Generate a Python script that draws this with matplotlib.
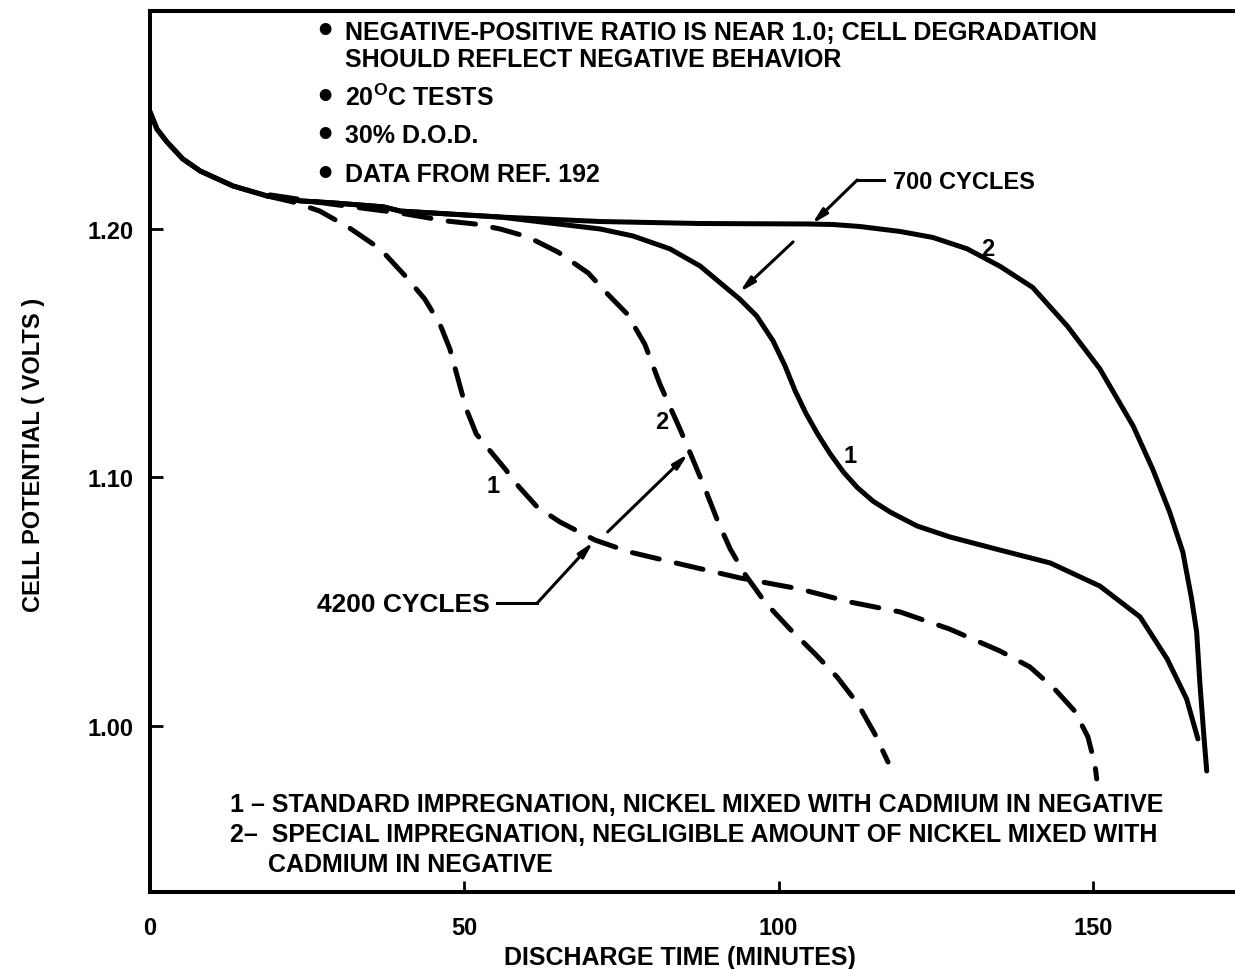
import matplotlib
matplotlib.use("Agg")
import matplotlib.pyplot as plt

FAM = ['Liberation Sans Narrow', 'Liberation Sans', 'DejaVu Sans']
plt.rcParams['font.family'] = FAM
plt.rcParams['font.weight'] = 'bold'
plt.rcParams['mathtext.fontset'] = 'custom'
plt.rcParams['mathtext.bf'] = 'Liberation Sans:bold'
plt.rcParams['mathtext.rm'] = 'Liberation Sans:bold'

# discharge curves, time in minutes, potential in volts
t_700_1 = [0, 1.1, 2.7, 5.2, 8.0, 13.2, 18.6, 23.9, 29.1, 37.1, 39.8, 55.7, 63.6, 71.6, 76.8,
           82.7, 87.5, 93.8, 96.5, 99.1, 101.0, 102.6, 104.3, 106.2, 108.2, 110.3, 112.5,
           115.0, 117.8, 122.0, 127.2, 135.2, 143.2, 151.1, 157.5, 161.8, 164.9, 166.7]
v_700_1 = [1.2471, 1.2402, 1.2350, 1.2282, 1.2233, 1.2173, 1.2133, 1.2113, 1.2105, 1.2089,
           1.2072, 1.2048, 1.2024, 1.2000, 1.1972, 1.1920, 1.1851, 1.1718, 1.1650, 1.1550,
           1.1450, 1.1350, 1.1260, 1.1175, 1.1095, 1.1022, 1.0960, 1.0905, 1.0860, 1.0805,
           1.0761, 1.0708, 1.0656, 1.0563, 1.0439, 1.0270, 1.0109, 0.9948]

t_700_2 = [0, 1.1, 2.7, 5.2, 8.0, 13.2, 18.6, 23.9, 29.1, 37.1, 39.8, 55.7, 71.6, 87.5,
           104.8, 108.6, 112.9, 119.3, 124.5, 130.0, 135.2, 140.4, 145.9, 151.1, 156.4,
           159.5, 162.2, 164.3, 165.7, 166.5, 167.0, 167.6, 168.1]
v_700_2 = [1.2471, 1.2402, 1.2350, 1.2282, 1.2233, 1.2173, 1.2133, 1.2113, 1.2105, 1.2089,
           1.2072, 1.2048, 1.2030, 1.2022, 1.2020, 1.2018, 1.2010, 1.1990, 1.1966, 1.1920,
           1.1850, 1.1765, 1.1610, 1.1437, 1.1207, 1.1034, 1.0861, 1.0700, 1.0511, 1.0378,
           1.0177, 0.9976, 0.9819]

t_4200_1 = [18.6, 22.7, 27.0, 31.5, 36.6, 40.6, 43.7, 46.1, 47.7, 49.0, 50.3, 51.9, 54.1,
            56.5, 58.7, 61.6, 65.2, 70.8, 76.3, 84.3, 93.8, 103.4, 111.3, 119.3, 127.2,
            135.2, 140.0, 143.9, 147.1, 149.2, 150.3, 150.6]
v_4200_1 = [1.2133, 1.2109, 1.2072, 1.2008, 1.1920, 1.1811, 1.1718, 1.1618, 1.1517, 1.1396,
            1.1276, 1.1175, 1.1107, 1.1034, 1.0962, 1.0881, 1.0821, 1.0748, 1.0700, 1.0652,
            1.0596, 1.0551, 1.0499, 1.0459, 1.0390, 1.0302, 1.0237, 1.0149, 1.0060, 0.9956,
            0.9847, 0.9787]

t_4200_2 = [19.1, 28.6, 39.8, 47.2, 51.7, 55.7, 60.1, 64.9, 69.7, 72.8, 75.9, 78.7, 81.1,
            84.3, 86.2, 88.3, 90.3, 92.3, 94.6, 97.8, 101.8, 105.8, 109.3, 112.6, 115.3, 117.4]
v_4200_2 = [1.2137, 1.2101, 1.2064, 1.2032, 1.2020, 1.2000, 1.1968, 1.1907, 1.1823, 1.1738,
            1.1658, 1.1537, 1.1376, 1.1195, 1.1082, 1.0954, 1.0825, 1.0712, 1.0612, 1.0499,
            1.0390, 1.0290, 1.0197, 1.0089, 0.9968, 0.9855]

xticks = [0, 50, 100, 150]
yticks = [1.00, 1.10, 1.20]
ytick_labels = ['1.00', '1.10', '1.20']

notes = [["NEGATIVE-POSITIVE RATIO IS NEAR 1.0; CELL DEGRADATION",
          "SHOULD REFLECT NEGATIVE BEHAVIOR"],
         [r"20$^{\mathbf{O}}$C TESTS"],
         ["30% D.O.D."],
         ["DATA FROM REF. 192"]]
legend_lines = ["1 \u2013 STANDARD IMPREGNATION, NICKEL MIXED WITH CADMIUM IN NEGATIVE",
                "2\u2013  SPECIAL IMPREGNATION, NEGLIGIBLE AMOUNT OF NICKEL MIXED WITH",
                "CADMIUM IN NEGATIVE"]

fig = plt.figure(figsize=(12.35, 9.70), dpi=100)
ax = fig.add_axes([0.1215, 0.0794, 0.8785, 0.9082])
ax.set_xlim(0, 172.6)
ax.set_ylim(0.9332, 1.2877)

lw = 3.6
ax.plot(t_700_1, v_700_1, color='black', lw=lw, solid_capstyle='round', solid_joinstyle='round')
ax.plot(t_700_2, v_700_2, color='black', lw=lw, solid_capstyle='round', solid_joinstyle='round')
ax.plot(t_4200_1, v_4200_1, color='black', lw=lw, dashes=(5.5, 3.5), dash_capstyle='round')
ax.plot(t_4200_2, v_4200_2, color='black', lw=lw, dashes=(5.5, 3.5), dash_capstyle='round')

for s in ['left', 'bottom', 'top']:
    ax.spines[s].set_linewidth(2.9)
ax.spines['right'].set_visible(False)

ax.set_xticks(xticks)
ax.set_xticklabels([str(x) for x in xticks])
ax.set_yticks(yticks)
ax.set_yticklabels(ytick_labels)
ax.tick_params(axis='x', direction='in', length=8, width=2, pad=17, labelsize=17)
ax.tick_params(axis='y', direction='in', length=9, width=2, pad=12, labelsize=17)
ax.tick_params(top=False, right=False)

ax.set_xlabel('DISCHARGE TIME (MINUTES)', fontsize=18, fontweight='bold')
ax.xaxis.set_label_coords(0.488, -0.060)
ax.set_ylabel('CELL POTENTIAL ( VOLTS )', fontsize=17, fontweight='bold')
ax.yaxis.set_label_coords(-0.097, 0.497)

# bulleted notes, one text per printed line
line_y = [[1.2793, 1.2684], [1.2531], [1.2378], [1.2221]]
for lines, ys in zip(notes, line_y):
    ax.text(27.8, ys[0], '\u2022', fontsize=24, ha='center', va='center', family='DejaVu Sans')
    for txt, y in zip(lines, ys):
        ax.text(31.0, y, txt, fontsize=18, ha='left', va='center')

# curve legend at the bottom
for txt, x, y in zip(legend_lines, [12.7, 12.7, 18.8], [0.9686, 0.9565, 0.9445]):
    ax.text(x, y, txt, fontsize=18, ha='left', va='center')

# curve numbers
ax.text(133.3, 1.1920, '2', fontsize=17, ha='center', va='center')
ax.text(111.3, 1.1087, '1', fontsize=17, ha='center', va='center')
ax.text(81.4, 1.1227, '2', fontsize=17, ha='center', va='center')
ax.text(54.6, 1.0966, '1', fontsize=17, ha='center', va='center')

arrow = dict(arrowstyle='-|>,head_length=0.9,head_width=0.22', color='black', lw=2.2,
             shrinkA=0, shrinkB=0)

# 700 cycles callout
ax.text(118.2, 1.2193, '700 CYCLES', fontsize=17, ha='left', va='center')
ax.plot([116.7, 112.5], [1.2197, 1.2197], color='black', lw=2.2)
ax.annotate('', xy=(105.3, 1.2020), xytext=(112.5, 1.2197), arrowprops=arrow)
ax.annotate('', xy=(93.8, 1.1746), xytext=(102.3, 1.1948), arrowprops=arrow)

# 4200 cycles callout
ax.text(54.1, 1.0491, '4200 CYCLES', fontsize=19, ha='right', va='center')
ax.plot([55.2, 61.6], [1.0495, 1.0495], color='black', lw=2.2)
ax.annotate('', xy=(70.5, 1.0740), xytext=(61.6, 1.0495), arrowprops=arrow)
ax.annotate('', xy=(85.6, 1.1095), xytext=(72.8, 1.0781), arrowprops=arrow)

fig.savefig('out.png', dpi=100)
